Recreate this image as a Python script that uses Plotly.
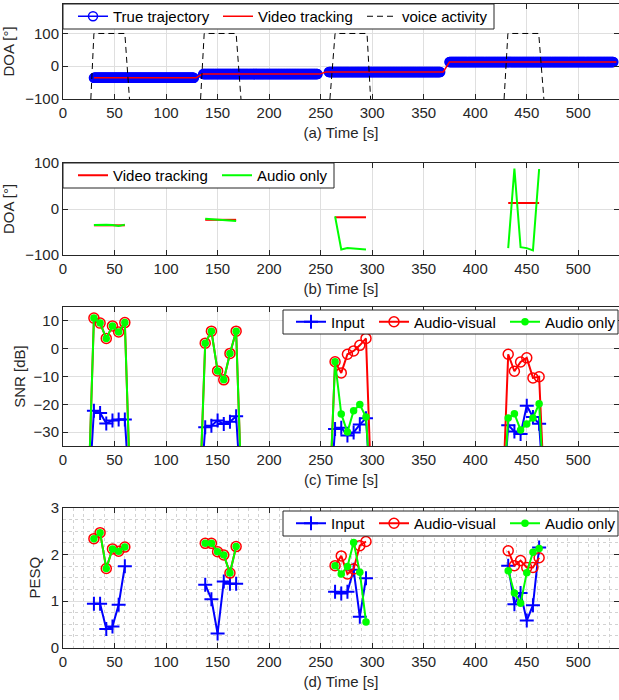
import numpy as np
import plotly.graph_objects as go

# ---------------- data ----------------
# (a) true trajectory: piecewise constant segments
TRAJ_START = [30, 136, 258, 375]
TRAJ_END = [127, 247, 366, 534]
TRAJ_DOA = [-35.5, -24, -17.5, 13]

# (a) video tracking (continuous)
VT_T = [30, 129, 135, 249, 255, 369, 375, 537]
VT_DOA = [-35.5, -35.5, -24, -24, -17.5, -17.5, 13, 13]

# (a) voice activity trapezoids
VAD_T = [[27, 30, 60, 64.5], [133.5, 137, 168, 172.7], [259, 264, 295, 298.5], [428, 431.7, 461.6, 466.6]]
VAD_V = [-100, 100, 100, -100]

# frame times of each active segment
SEG_T = [[30, 36, 42, 48, 54, 60],
         [138, 144, 150, 156, 162, 168],
         [264, 270, 276, 282, 288, 294],
         [432, 438, 444, 450, 456, 462]]

# (b) DOA
VIDEO_DOA = [-35.5, -23.5, -18, 13]
AUDIO_DOA = [[-35, -34, -34, -35, -37, -34],
             [-21, -22, -23, -24, -25, -26],
             [-16, -88, -85, -86, -87, -88],
             [-85, 88, -83, -85, -90, 87]]

# (c) SNR [dB]
SNR_FLOOR = -60
SNR_INPUT = [[-22.3, -23.1, -26.9, -25.8, -25.5, -25.5],
             [-28.3, -27.7, -25.8, -27.1, -26.3, -24.3],
             [-28.9, -28.4, -31.2, -30.1, -27.3, -25.0],
             [-27.5, -29.8, -30.7, -20.5, -24.6, -27.0]]
SNR_AV = [[11.0, 9.2, 3.7, 8.2, 6.0, 9.4],
          [2.0, 6.3, -8.0, -11.2, -1.7, 6.3],
          [-4.7, -8.7, -2.0, -0.8, 1.2, 3.7],
          [-2.0, -8.1, -4.8, -3.3, -10.5, -10.1]]
SNR_AO = [[11.0, 9.2, 3.7, 8.2, 6.0, 9.4],
          [2.0, 6.3, -8.0, -11.2, -1.7, 6.3],
          [-4.7, -23.5, -30.0, -22.3, -20.1, -24.6],
          [-24.9, -23.4, -29.2, -27.1, -24.9, -19.8]]

# (d) PESQ
PESQ_INPUT = [[0.94, 0.94, 0.40, 0.45, 0.92, 1.75],
              [1.35, 1.04, 0.30, 1.42, 1.37, 1.37],
              [1.20, 1.16, 1.20, 1.67, 0.66, 1.49],
              [1.76, 0.93, 1.17, 0.58, 0.91, 2.15]]
PESQ_AV = [[2.34, 2.47, 1.70, 2.12, 2.07, 2.16],
           [2.24, 2.24, 2.06, 1.99, 1.60, 2.17],
           [1.76, 1.97, 1.58, 1.69, 2.19, 2.28],
           [2.08, 1.76, 1.87, 1.72, 1.72, 1.93]]
PESQ_AO = [[2.34, 2.47, 1.70, 2.12, 2.07, 2.16],
           [2.24, 2.24, 2.06, 1.99, 1.60, 2.17],
           [1.76, 1.58, 1.74, 2.26, 1.62, 0.55],
           [1.65, 1.17, 0.95, 1.61, 2.05, 2.13]]

X_TICKS = [0, 50, 100, 150, 200, 250, 300, 350, 400, 450, 500]

# ---------------- helpers ----------------
W, H = 619, 700
FONT = "Liberation Sans, Arial, sans-serif"
TXT = "#262626"
BLUE, RED, GREEN = "#0000ff", "#ff0000", "#00ff00"


def joined(times, vals, pad=None):
    xs, ys = [], []
    for t, v in zip(times, vals):
        if pad is not None:
            xs += [t[0] - 6] + list(t) + [t[-1] + 6, None]
            ys += [pad] + list(v) + [pad, None]
        else:
            xs += list(t) + [None]
            ys += list(v) + [None]
    return xs, ys


def ydom(top, bot):
    return [1 - bot / H, 1 - top / H]


fig = go.Figure()

# ---- (a) ----
tx, ty = [], []
for s, e, d in zip(TRAJ_START, TRAJ_END, TRAJ_DOA):
    tt = np.arange(s, e + 0.01, 0.5)
    tx += list(tt) + [None]
    ty += [d] * len(tt) + [None]
fig.add_trace(go.Scatter(x=tx, y=ty, mode="lines+markers", name="True trajectory", legendwidth=100,
                         line=dict(color=BLUE, width=1.5),
                         marker=dict(symbol="circle-open", size=9, color=BLUE, line=dict(width=1.5)),
                         xaxis="x", yaxis="y", legend="legend"))
fig.add_trace(go.Scatter(x=VT_T, y=VT_DOA, mode="lines", name="Video tracking", legendwidth=99,
                         line=dict(color=RED, width=1.5), xaxis="x", yaxis="y", legend="legend"))
vx, vy = [], []
for seg in VAD_T:
    vx += list(seg) + [None]
    vy += VAD_V + [None]
fig.add_trace(go.Scatter(x=vx, y=vy, mode="lines", name="voice activity", legendwidth=86,
                         line=dict(color="#000000", width=1, dash="6px,4px"),
                         xaxis="x", yaxis="y", legend="legend"))

# ---- (b) ----
bx, by = joined(SEG_T, [[d] * 6 for d in VIDEO_DOA])
fig.add_trace(go.Scatter(x=bx, y=by, mode="lines", name="Video tracking", legendwidth=99,
                         line=dict(color=RED, width=2), xaxis="x2", yaxis="y2", legend="legend2"))
bx, by = joined(SEG_T, AUDIO_DOA)
fig.add_trace(go.Scatter(x=bx, y=by, mode="lines", name="Audio only", legendwidth=70,
                         line=dict(color=GREEN, width=2), xaxis="x2", yaxis="y2", legend="legend2"))


# ---- (c) & (d) ----
def three(xa, ya, leg, inp, av, ao, pad):
    x, y = joined(SEG_T, inp, pad)
    fig.add_trace(go.Scatter(x=x, y=y, mode="lines+markers", name="Input", legendwidth=38,
                             line=dict(color=BLUE, width=2),
                             marker=dict(symbol="cross-thin-open", size=10, color=BLUE,
                                         line=dict(width=2, color=BLUE)),
                             xaxis=xa, yaxis=ya, legend=leg))
    x, y = joined(SEG_T, av, pad)
    fig.add_trace(go.Scatter(x=x, y=y, mode="lines+markers", name="Audio-visual", legendwidth=86,
                             line=dict(color=RED, width=2),
                             marker=dict(symbol="circle-open", size=10, color=RED,
                                         line=dict(width=1.5, color=RED)),
                             xaxis=xa, yaxis=ya, legend=leg))
    x, y = joined(SEG_T, ao, pad)
    fig.add_trace(go.Scatter(x=x, y=y, mode="lines+markers", name="Audio only", legendwidth=70,
                             line=dict(color=GREEN, width=2),
                             marker=dict(symbol="circle", size=7.5, color=GREEN),
                             xaxis=xa, yaxis=ya, legend=leg))


three("x3", "y3", "legend3", SNR_INPUT, SNR_AV, SNR_AO, SNR_FLOOR)
three("x4", "y4", "legend4", PESQ_INPUT, PESQ_AV, PESQ_AO, None)

# ---------------- layout ----------------
xdom = [63 / W, 1.0]
XR = [0, 539.5]
GRID = "#dfdfdf"
MINOR = dict(showgrid=True, gridcolor="#d2d2d2", griddash="dot", gridwidth=1)


def xax(anchor, title):
    return dict(domain=xdom, range=XR, anchor=anchor, tickvals=X_TICKS, automargin=False,
                showline=True, linecolor=TXT, linewidth=1, mirror="ticks",
                ticks="inside", ticklen=5, tickcolor=TXT,
                showgrid=True, gridcolor=GRID, gridwidth=1, zeroline=False,
                tickfont=dict(size=15, color=TXT, family=FONT),
                title=dict(text=title, font=dict(size=15, color=TXT, family=FONT), standoff=7))


def yax(anchor, dom, rng, ticks, title, standoff):
    return dict(domain=dom, range=rng, anchor=anchor, tickvals=ticks, automargin=False,
                showline=True, linecolor=TXT, linewidth=1, mirror="ticks",
                ticks="inside", ticklen=5, tickcolor=TXT,
                showgrid=True, gridcolor=GRID, gridwidth=1, zeroline=False,
                tickfont=dict(size=15, color=TXT, family=FONT),
                title=dict(text=title, font=dict(size=15, color=TXT, family=FONT), standoff=standoff))


# legend boxes (pixel positions from top-left): left, top, right, bottom, first text start
LEG_BOX = {"legend": (63, 4, 494, 29, 114), "legend2": (63, 163, 334, 188, 114),
           "legend3": (283, 310, 618, 334, 332), "legend4": (283, 511, 618, 536, 332)}


def leg(name):
    l, t, r, b, ts = LEG_BOX[name]
    return dict(x=(ts - 41) / W, y=1 - (t + b) / 2 / H, xanchor="left", yanchor="middle",
                orientation="h", bgcolor="rgba(0,0,0,0)", borderwidth=0,
                font=dict(size=15, color="#000000", family=FONT),
                itemwidth=30, tracegroupgap=0)


shapes = []
for name, (l, t, r, b, ts) in LEG_BOX.items():
    shapes.append(dict(type="rect", xref="paper", yref="paper", layer="above",
                       x0=l / W, x1=r / W, y0=1 - b / H, y1=1 - t / H,
                       fillcolor="white", line=dict(color=TXT, width=1)))

layout = dict(
    width=W, height=H, margin=dict(l=0, r=0, t=0, b=0, pad=0, autoexpand=False),
    paper_bgcolor="white", plot_bgcolor="white",
    font=dict(family=FONT, color=TXT, size=15),
    xaxis=xax("y", "(a) Time [s]"),
    yaxis=yax("x", ydom(4, 99), [-100, 190], [-100, 0, 100], "DOA [°]", 7),
    xaxis2=xax("y2", "(b) Time [s]"),
    yaxis2=yax("x2", ydom(163, 255), [-100, 100], [-100, 0, 100], "DOA [°]", 7),
    xaxis3=xax("y3", "(c) Time [s]"),
    yaxis3=yax("x3", ydom(307, 446), [-35, 15], [-30, -20, -10, 0, 10], "SNR [dB]", 4),
    xaxis4=xax("y4", "(d) Time [s]"),
    yaxis4=yax("x4", ydom(508, 647.5), [0, 3], [0, 1, 2, 3], "PESQ", 6),
    legend=leg("legend"), legend2=leg("legend2"),
    legend3=leg("legend3"), legend4=leg("legend4"),
    shapes=shapes,
)
fig.update_layout(**layout)
fig.layout.xaxis4.minor = dict(dtick=10, tick0=0, **MINOR)
fig.layout.yaxis4.minor = dict(dtick=0.25, tick0=0, **MINOR)

fig.write_html("out.html")
